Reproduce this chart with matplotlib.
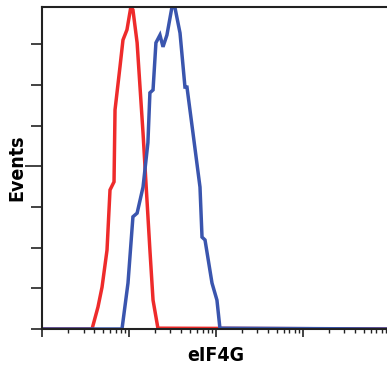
import numpy as np
import matplotlib.pyplot as plt
from matplotlib.ticker import LogLocator, NullFormatter, FixedLocator

# isotype control (red) and eIF4G stained (blue)
red_x = [1, 3.76, 4.40, 4.90, 5.59, 6.05, 6.73, 6.91, 7.88, 8.53, 9.48, 10.5, 11.1,
         12.4, 14.5, 16.1, 17.4, 18.9, 21.5, 9000]
red_y = [0, 0, 0.54, 1.03, 1.94, 3.42, 3.62, 5.39, 6.45, 7.11, 7.36, 7.92, 7.85,
         7.04, 4.82, 3.17, 1.94, 0.71, 0.02, 0]

blue_x = [1, 8.31, 9.74, 11.1, 12.4, 14.5, 16.5, 17.4, 18.9, 20.4, 22.7, 24.6, 27.3,
          31.2, 33.8, 38.6, 44.0, 46.4, 54.4, 65.5, 69.1, 74.8, 90.0, 102.6, 111, 9000]
blue_y = [0, 0, 1.13, 2.76, 2.85, 3.49, 4.58, 5.81, 5.88, 7.04, 7.23, 6.94, 7.23,
          7.92, 7.90, 7.28, 5.95, 5.95, 4.82, 3.49, 2.26, 2.19, 1.13, 0.71, 0.02, 0]

fig = plt.figure(figsize=(3.87, 3.70), dpi=100)
ax = fig.add_axes([42 / 387, 1 - 329 / 370, 1 - 42 / 387, 322 / 370])

ax.plot(red_x, red_y, color='#ee2b2b', lw=2.5, solid_joinstyle='miter')
ax.plot(blue_x, blue_y, color='#3a55ae', lw=2.5, solid_joinstyle='miter')

ax.set_xscale('log')
ax.set_xlim(1, 10 ** 3.966)
ax.set_ylim(0, 7.92)

ax.xaxis.set_major_locator(LogLocator(base=10, numticks=10))
ax.xaxis.set_minor_locator(LogLocator(base=10, subs=np.arange(2, 10), numticks=20))
ax.xaxis.set_major_formatter(NullFormatter())
ax.xaxis.set_minor_formatter(NullFormatter())
ax.tick_params(axis='x', which='major', direction='out', length=6, width=1.2, color='#222222')
ax.tick_params(axis='x', which='minor', direction='out', length=3, width=1.0, color='#222222')

ax.yaxis.set_major_locator(FixedLocator([4]))
ax.yaxis.set_minor_locator(FixedLocator([0, 1, 2, 3, 5, 6, 7]))
ax.set_yticklabels([])
ax.tick_params(axis='y', which='major', direction='out', length=12, width=1.2, color='#222222')
ax.tick_params(axis='y', which='minor', direction='out', length=8, width=1.2, color='#222222')

for s in ['left', 'bottom', 'top']:
    ax.spines[s].set_linewidth(1.5)
    ax.spines[s].set_color('#222222')
ax.spines['right'].set_visible(False)

font = ['Liberation Sans Narrow', 'DejaVu Sans']
ax.set_xlabel('eIF4G', family=font, fontweight='bold', fontstretch='condensed', fontsize=14)
ax.set_ylabel('Events', family=font, fontweight='bold', fontstretch='condensed', fontsize=14)
ax.xaxis.set_label_coords((216 - 42) / 345, -(346 - 329) / 322)
ax.yaxis.set_label_coords(-(42 - 26) / 345, (329 - 168) / 322)

fig.savefig('out.png', dpi=100)
